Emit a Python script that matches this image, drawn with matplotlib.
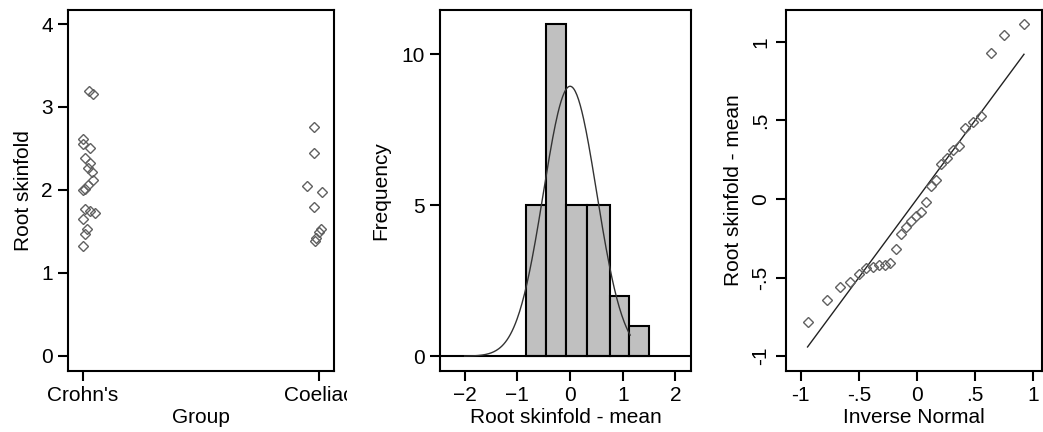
import numpy as np
import matplotlib
matplotlib.use('Agg')
import matplotlib.pyplot as plt
from matplotlib.transforms import Bbox, TransformedBbox
from statistics import NormalDist

# Panel 1: root skinfold by group
crohns = [3.19, 3.16, 2.62, 2.56, 2.50, 2.38, 2.32, 2.26, 2.22, 2.12,
          2.06, 2.01, 2.00, 1.77, 1.75, 1.72, 1.65, 1.53, 1.47, 1.33]
crohns_jitter = [0.025, 0.042, 0.0, 0.0, 0.03, 0.008, 0.03, 0.021, 0.038, 0.042,
                 0.021, 0.008, 0.0, 0.008, 0.03, 0.05, 0.0, 0.017, 0.008, 0.0]
coeliac = [2.76, 2.45, 2.05, 1.98, 1.80, 1.53, 1.49, 1.42, 1.38]
coeliac_jitter = [-0.021, -0.021, -0.05, 0.013, -0.021, 0.008, 0.0, -0.013, -0.017]
groups = ["Crohn's", "Coeliac"]

# Panel 2: histogram of root skinfold - mean
hist_edges = [-0.84, -0.46, -0.07, 0.32, 0.75, 1.12, 1.50]
hist_counts = [5, 11, 5, 5, 2, 1]
n_obs = 29
curve_mean, curve_sd = 0.0, 0.505
curve_range = (-2.0, 1.14)

# Panel 3: normal quantile plot (sorted deviations)
qq_y = [-0.78, -0.64, -0.56, -0.53, -0.48, -0.44, -0.43, -0.42, -0.42, -0.41,
        -0.32, -0.22, -0.18, -0.14, -0.11, -0.08, -0.02, 0.08, 0.12, 0.22,
        0.26, 0.31, 0.34, 0.45, 0.49, 0.53, 0.93, 1.04, 1.11]

plt.rcParams['font.family'] = ['Liberation Sans', 'DejaVu Sans']
plt.rcParams['font.size'] = 15
fs = 15
mk = dict(marker='D', ms=5, mfc='none', mec='#606060', mew=1.0, ls='none')

fig = plt.figure(figsize=(10.43, 4.32), dpi=100)
ax1 = fig.add_axes([0.0652, 0.1412, 0.2550, 0.8357])
ax2 = fig.add_axes([0.4219, 0.1412, 0.2404, 0.8357])
ax3 = fig.add_axes([0.7533, 0.1412, 0.2457, 0.8357])

for ax in (ax1, ax2, ax3):
    for s in ax.spines.values():
        s.set_linewidth(1.5)
    ax.tick_params(direction='out', length=7, width=1.5, labelsize=fs, pad=4,
                   top=False, right=False)

# dot plot
ax1.plot(np.add(1, crohns_jitter), crohns, **mk)
ax1.plot(np.add(2, coeliac_jitter), coeliac, **mk)
ax1.set_xlim(0.936, 2.064)
ax1.set_ylim(-0.181, 4.169)
ax1.set_yticks([0, 1, 2, 3, 4])
ax1.set_xticks([1, 2])
ax1.set_xticklabels(groups)
ax1.set_ylabel('Root skinfold', fontsize=fs, labelpad=6)
ax1.set_xlabel('Group', fontsize=fs, labelpad=2)
clip = TransformedBbox(Bbox([[0, 0], [347 / 1043, 1]]), fig.transFigure)
for lab in ax1.get_xticklabels():
    lab.set_clip_box(clip)
    lab.set_clip_on(True)

# histogram with normal curve
widths = np.diff(hist_edges)
ax2.bar(hist_edges[:-1], hist_counts, width=widths, align='edge',
        color='#c0c0c0', edgecolor='black', linewidth=1.5, zorder=2)
ax2.axhline(0, color='black', lw=1.5, zorder=3)
bw = (hist_edges[-1] - hist_edges[0]) / len(hist_counts)
nd = NormalDist(curve_mean, curve_sd)
xs = np.linspace(curve_range[0], curve_range[1], 200)
ax2.plot(xs, [n_obs * bw * nd.pdf(v) for v in xs], color='#333333', lw=1.0, zorder=4)
ax2.set_xlim(-2.467, 2.29)
ax2.set_ylim(-0.49, 11.46)
ax2.set_xticks([-2, -1, 0, 1, 2])
ax2.set_yticks([0, 5, 10])
ax2.set_ylabel('Frequency', fontsize=fs, labelpad=8)
ax2.set_xlabel('Root skinfold - mean', fontsize=fs, labelpad=2)

# normal quantile plot
n = len(qq_y)
qd = NormalDist(np.mean(qq_y), np.std(qq_y, ddof=1))
qq_x = [qd.inv_cdf(i / (n + 1)) for i in range(1, n + 1)]
ax3.plot([qq_x[0], qq_x[-1]], [qq_x[0], qq_x[-1]], color='#222222', lw=1.0)
ax3.plot(qq_x, qq_y, **mk)
ax3.set_xlim(-1.129, 1.075)
ax3.set_ylim(-1.094, 1.202)
ax3.set_xticks([-1, -0.5, 0, 0.5, 1])
ax3.set_xticklabels(['-1', '-.5', '0', '.5', '1'])
ax3.set_yticks([-1, -0.5, 0, 0.5, 1])
ax3.set_yticklabels(['-1', '-.5', '0', '.5', '1'], rotation=90, va='center')
ax3.set_ylabel('Root skinfold - mean', fontsize=fs, labelpad=6)
ax3.set_xlabel('Inverse Normal', fontsize=fs, labelpad=2)

fig.savefig('out.png', dpi=100)
